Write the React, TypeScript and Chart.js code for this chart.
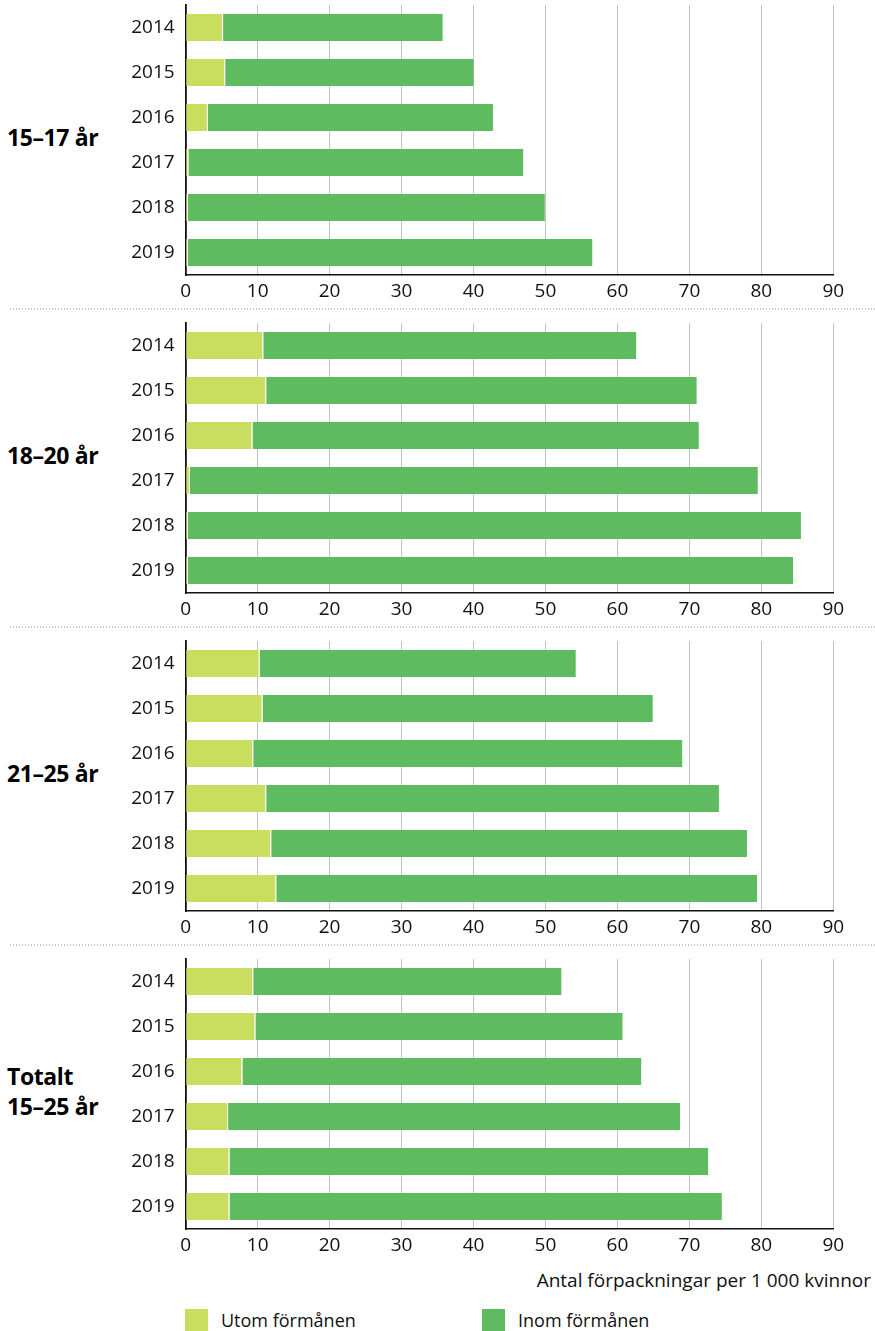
import React, { useEffect, useRef } from "react";
import { Chart, registerables } from "chart.js";

Chart.register(...registerables);

const years = ["2014", "2015", "2016", "2017", "2018", "2019"];
const xTicks = [0, 10, 20, 30, 40, 50, 60, 70, 80, 90];

const utom1517 = [5.2, 5.5, 3.1, 0.4, 0.3, 0.3];
const inom1517 = [30.5, 34.5, 39.6, 46.5, 49.6, 56.2];

const utom1820 = [10.8, 11.2, 9.3, 0.6, 0.3, 0.3];
const inom1820 = [51.8, 59.8, 62.0, 78.9, 85.2, 84.1];

const utom2125 = [10.3, 10.7, 9.4, 11.2, 11.9, 12.6];
const inom2125 = [43.9, 54.2, 59.6, 62.9, 66.1, 66.8];

const utomTot = [9.4, 9.7, 7.9, 5.9, 6.1, 6.1];
const inomTot = [42.8, 51.0, 55.4, 62.8, 66.5, 68.4];

const seriesNames = ["Utom förmånen", "Inom förmånen"];
const panelLabels = [["15–17 år"], ["18–20 år"], ["21–25 år"], ["Totalt", "15–25 år"]];
const axisTitle = "Antal förpackningar per 1 000 kvinnor";

const YELLOW = "#c9dd5e";
const GREEN = "#5ebb5f";
const FONT = "'Open Sans', sans-serif";

const PANEL_STEP = 318;
const CANVAS_LEFT = 100;
const CANVAS_W = 775;
const CANVAS_H = 305;

function Panel({ utom, inom, index }: { utom: number[]; inom: number[]; index: number }) {
  const ref = useRef<HTMLCanvasElement | null>(null);
  useEffect(() => {
    if (!ref.current) return;
    const chart = new Chart(ref.current, {
      type: "bar",
      data: {
        labels: years,
        datasets: [
          {
            label: seriesNames[0],
            data: utom,
            backgroundColor: YELLOW,
            borderColor: "#ffffff",
            borderWidth: { top: 0, bottom: 0, left: 0, right: 1.2 },
            barPercentage: 0.6,
            categoryPercentage: 1,
          },
          {
            label: seriesNames[1],
            data: inom,
            backgroundColor: GREEN,
            borderWidth: 0,
            barPercentage: 0.6,
            categoryPercentage: 1,
          },
        ],
      },
      options: {
        indexAxis: "y",
        animation: false,
        responsive: false,
        devicePixelRatio: 1,
        layout: { padding: { top: 5, right: 41.7, left: 0, bottom: 0 } },
        plugins: { legend: { display: false }, tooltip: { enabled: false } },
        scales: {
          x: {
            stacked: true,
            min: 0,
            max: 90,
            afterBuildTicks: (scale: any) => {
              scale.ticks = xTicks.map((v) => ({ value: v }));
            },
            afterFit: (scale: any) => {
              scale.height = CANVAS_H - 5 - 270;
              scale.paddingLeft = 0;
              scale.paddingRight = 0;
            },
            grid: { color: "#c4c4c4", lineWidth: 1, drawTicks: false },
            border: { display: true, color: "#111", width: 1.6 },
            ticks: {
              padding: 5,
              color: "#111",
              font: { family: FONT, size: 19 },
              maxRotation: 0,
            },
          },
          y: {
            stacked: true,
            afterFit: (scale: any) => {
              scale.width = 85.7;
              scale.paddingTop = 0;
              scale.paddingBottom = 0;
            },
            grid: { display: false, drawTicks: false },
            border: { display: true, color: "#111", width: 1.8 },
            ticks: {
              padding: 11,
              color: "#111",
              font: { family: FONT, size: 19 },
            },
          },
        },
      },
    } as any);
    return () => chart.destroy();
  }, [utom, inom]);

  const top = PANEL_STEP * index;
  const lines = panelLabels[index];
  const centerY = top + 5 + 135;
  return (
    <>
      <canvas
        ref={ref}
        width={CANVAS_W}
        height={CANVAS_H}
        style={{
          position: "absolute",
          left: CANVAS_LEFT,
          top,
          width: CANVAS_W,
          height: CANVAS_H,
        }}
      />
      <div
        style={{
          position: "absolute",
          left: 7,
          top: centerY - (lines.length * 30) / 2 - 3,
          fontFamily: FONT,
          fontWeight: 700,
          fontSize: 23,
          lineHeight: "30px",
          color: "#000",
          letterSpacing: "-0.4px",
        }}
      >
        {lines.map((l, i) => (
          <div key={i}>{l}</div>
        ))}
      </div>
      {index < 3 && (
        <div
          style={{
            position: "absolute",
            left: 10,
            top: top + 308,
            width: 865,
            height: 2,
            backgroundImage: "linear-gradient(to right, #c2c2c2 1.5px, transparent 1.5px)",
            backgroundSize: "3px 2px",
          }}
        />
      )}
    </>
  );
}

export default function App() {
  return (
    <div
      style={{
        position: "absolute",
        left: 0,
        top: 0,
        width: 875,
        height: 1331,
        background: "#fff",
        overflow: "hidden",
      }}
    >
      <Panel utom={utom1517} inom={inom1517} index={0} />
      <Panel utom={utom1820} inom={inom1820} index={1} />
      <Panel utom={utom2125} inom={inom2125} index={2} />
      <Panel utom={utomTot} inom={inomTot} index={3} />
      <div
        style={{
          position: "absolute",
          right: 4,
          top: 1267,
          fontFamily: FONT,
          fontSize: 19,
          lineHeight: "26px",
          color: "#111",
          whiteSpace: "nowrap",
        }}
      >
        {axisTitle}
      </div>
      {[
        { name: seriesNames[0], color: YELLOW, x: 185 },
        { name: seriesNames[1], color: GREEN, x: 482 },
      ].map((it) => (
        <div
          key={it.name}
          style={{
            position: "absolute",
            left: it.x,
            top: 1308,
            display: "flex",
            alignItems: "center",
            fontFamily: FONT,
            fontSize: 18,
            color: "#111",
            whiteSpace: "nowrap",
          }}
        >
          <div style={{ width: 23, height: 23, background: it.color, marginRight: 13 }} />
          <span>{it.name}</span>
        </div>
      ))}
    </div>
  );
}
